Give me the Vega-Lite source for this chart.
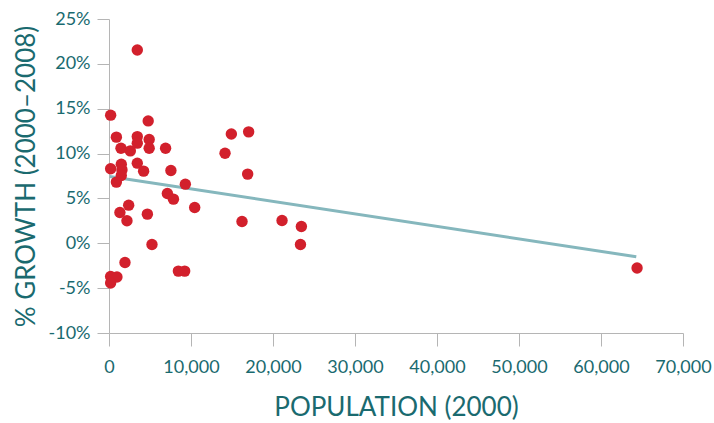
{
  "$schema": "https://vega.github.io/schema/vega-lite/v6.json",
  "width": 574,
  "height": 314,
  "autosize": "none",
  "padding": {"left": 109, "top": 19, "right": 31, "bottom": 90},
  "background": "white",
  "config": {
    "view": {"stroke": null},
    "font": "Lato"
  },
  "datasets": {
    "points": [
      {"pop": 3450, "growth": 21.55},
      {"pop": 200, "growth": 14.28},
      {"pop": 4780, "growth": 13.64},
      {"pop": 900, "growth": 11.83},
      {"pop": 3450, "growth": 11.89},
      {"pop": 3450, "growth": 11.16},
      {"pop": 4900, "growth": 11.56},
      {"pop": 4900, "growth": 10.6},
      {"pop": 1460, "growth": 10.6},
      {"pop": 2600, "growth": 10.3},
      {"pop": 6900, "growth": 10.6},
      {"pop": 14920, "growth": 12.19},
      {"pop": 17030, "growth": 12.42},
      {"pop": 14150, "growth": 10.04},
      {"pop": 16910, "growth": 7.71},
      {"pop": 200, "growth": 8.3},
      {"pop": 1500, "growth": 8.82},
      {"pop": 1580, "growth": 8.18},
      {"pop": 1500, "growth": 7.55},
      {"pop": 900, "growth": 6.82},
      {"pop": 3450, "growth": 8.93},
      {"pop": 4220, "growth": 8.04},
      {"pop": 7550, "growth": 8.11},
      {"pop": 9310, "growth": 6.59},
      {"pop": 7120, "growth": 5.55},
      {"pop": 7860, "growth": 4.92},
      {"pop": 10450, "growth": 3.99},
      {"pop": 2400, "growth": 4.25},
      {"pop": 1330, "growth": 3.43},
      {"pop": 2190, "growth": 2.51},
      {"pop": 4680, "growth": 3.25},
      {"pop": 5240, "growth": -0.13},
      {"pop": 16220, "growth": 2.43},
      {"pop": 21100, "growth": 2.54},
      {"pop": 23460, "growth": 1.87},
      {"pop": 23350, "growth": -0.13},
      {"pop": 1950, "growth": -2.14},
      {"pop": 8460, "growth": -3.1},
      {"pop": 9230, "growth": -3.1},
      {"pop": 200, "growth": -3.7},
      {"pop": 970, "growth": -3.76},
      {"pop": 200, "growth": -4.43},
      {"pop": 64400, "growth": -2.76}
    ],
    "trend": [
      {"pop": 80, "growth": 7.44},
      {"pop": 64300, "growth": -1.5}
    ]
  },
  "encoding": {
    "x": {
      "field": "pop",
      "type": "quantitative",
      "scale": {"domain": [0, 70000], "nice": false, "zero": false},
      "axis": {
        "title": "POPULATION (2000)",
        "titleFont": "Lato",
        "titleFontSize": 26,
        "titleFontWeight": "normal",
        "titleColor": "#1a6a6f",
        "titlePadding": 18,
        "values": [0, 10000, 20000, 30000, 40000, 50000, 60000, 70000],
        "format": ",d",
        "labelOverlap": false,
        "labelFlush": false,
        "labelBound": false,
        "labelFontSize": 18,
        "labelColor": "#1a6a6f",
        "labelPadding": 12,
        "tickSize": 13,
        "tickColor": "#b5b5b5",
        "domainColor": "#b5b5b5",
        "grid": false
      }
    },
    "y": {
      "field": "growth",
      "type": "quantitative",
      "scale": {"domain": [-10, 25], "nice": false, "zero": false},
      "axis": {
        "title": "% GROWTH (2000–2008)",
        "titleFont": "Lato",
        "titleFontSize": 26,
        "titleFontWeight": "normal",
        "titleColor": "#1a6a6f",
        "titlePadding": 9,
        "values": [-10, -5, 0, 5, 10, 15, 20, 25],
        "labelExpr": "datum.value + '%'",
        "labelOverlap": false,
        "labelFlush": false,
        "labelBound": false,
        "labelFontSize": 18,
        "labelColor": "#1a6a6f",
        "labelPadding": 7,
        "tickSize": 12,
        "tickColor": "#b5b5b5",
        "domainColor": "#b5b5b5",
        "grid": false
      }
    }
  },
  "layer": [
    {
      "data": {"name": "trend"},
      "mark": {"type": "line", "color": "#85b7bd", "strokeWidth": 3},
      "encoding": {}
    },
    {
      "data": {"name": "points"},
      "mark": {"type": "circle", "color": "#d2202c", "opacity": 1, "size": 130},
      "encoding": {}
    }
  ]
}
